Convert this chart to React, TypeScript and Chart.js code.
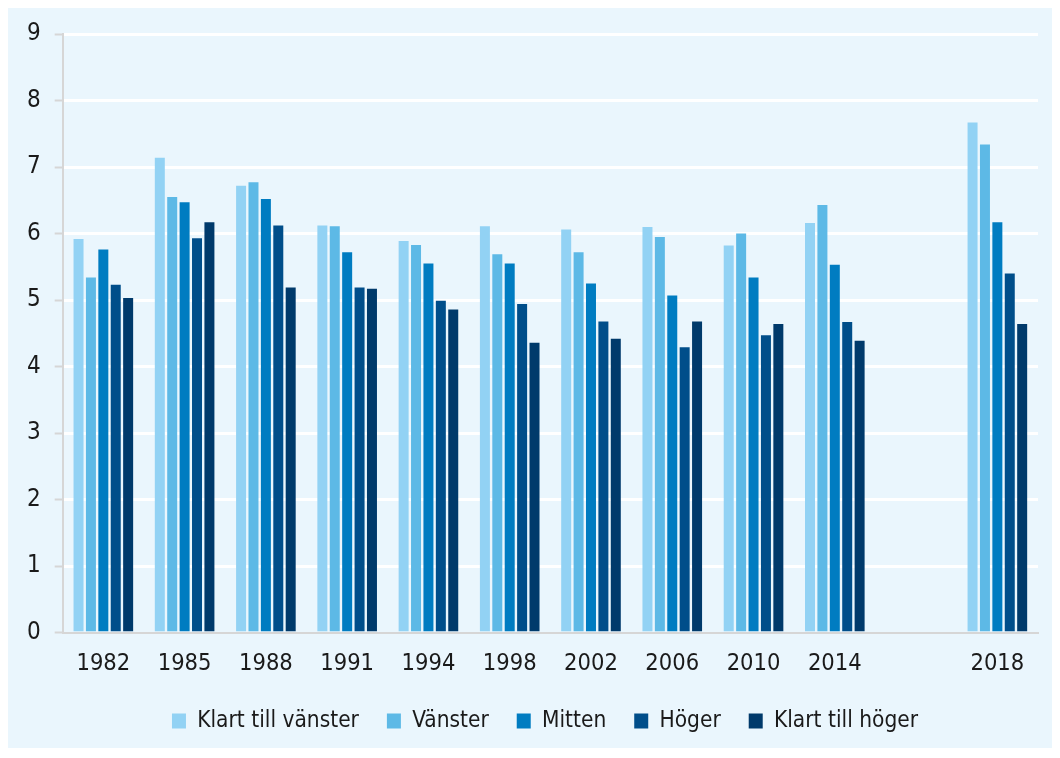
import React, { useEffect, useRef } from "react";
import { Chart, registerables } from "chart.js";

Chart.register(...registerables);

const categories = ["1982", "1985", "1988", "1991", "1994", "1998", "2002", "2006", "2010", "2014", "", "2018"];
const seriesNames = ["Klart till vänster", "Vänster", "Mitten", "Höger", "Klart till höger"];
const klartVanster = [5.92, 7.14, 6.72, 6.12, 5.89, 6.11, 6.06, 6.10, 5.82, 6.16, null, 7.67];
const vanster = [5.34, 6.55, 6.77, 6.11, 5.83, 5.69, 5.72, 5.95, 6.00, 6.43, null, 7.34];
const mitten = [5.76, 6.47, 6.52, 5.72, 5.55, 5.55, 5.25, 5.07, 5.34, 5.53, null, 6.17];
const hoger = [5.23, 5.93, 6.12, 5.19, 4.99, 4.94, 4.68, 4.29, 4.47, 4.67, null, 5.40];
const klartHoger = [5.03, 6.17, 5.19, 5.17, 4.86, 4.36, 4.42, 4.68, 4.64, 4.39, null, 4.64];
const yTicks = [0, 1, 2, 3, 4, 5, 6, 7, 8, 9];

const colors = ["#92D2F4", "#5DB9E6", "#007CC1", "#004E8A", "#003A6B"];
const FONT = "'DejaVu Sans Condensed', 'Liberation Sans Narrow', 'Liberation Sans', sans-serif";

const legendShift = {
  id: "legendShift",
  afterUpdate(chart: any) {
    const lg = chart.legend;
    if (lg) {
      lg.left += 22;
      lg.right += 22;
    }
  },
};

export default function App() {
  const ref = useRef<HTMLCanvasElement>(null);
  useEffect(() => {
    const ctx = ref.current!;
    const seriesData = [klartVanster, vanster, mitten, hoger, klartHoger];
    const chart = new Chart(ctx, {
      type: "bar",
      data: {
        labels: categories,
        datasets: seriesNames.map((name, i) => ({
          label: name,
          data: seriesData[i],
          backgroundColor: colors[i],
          borderWidth: 0,
          barPercentage: 0.806,
          categoryPercentage: 0.763,
        })),
      },
      plugins: [legendShift],
      options: {
        animation: false,
        responsive: false,
        maintainAspectRatio: false,
        layout: { padding: { left: 0, right: 22, top: 29, bottom: 5.75 } },
        plugins: {
          tooltip: { enabled: false },
          legend: {
            position: "bottom",
            labels: {
              boxWidth: 14,
              boxHeight: 15,
              padding: 28,
              color: "#1a1a1a",
              font: { family: FONT, size: 22.5 },
            },
          },
        },
        scales: {
          x: {
            grid: { display: false, drawTicks: false },
            border: { display: true, color: "#D6D6D6", width: 2 },
            ticks: {
              color: "#1a1a1a",
              padding: 17.5,
              maxRotation: 0,
              autoSkip: false,
              font: { family: FONT, size: 23.5 },
            },
            afterFit: (s: any) => {
              s.height = 49;
            },
          },
          y: {
            min: 0,
            max: 9,
            afterBuildTicks: (s: any) => {
              s.ticks = yTicks.map((v) => ({ value: v }));
            },
            afterFit: (s: any) => {
              s.width = 54.7;
            },
            grid: {
              color: (c: any) => (c.tick && c.tick.value === 0 ? "rgba(0,0,0,0)" : "#FFFFFF"),
              lineWidth: 3,
              tickColor: "#D6D6D6",
              tickLength: 8,
              tickWidth: 2,
            },
            border: { display: true, color: "#D6D6D6", width: 2 },
            ticks: {
              color: "#1a1a1a",
              padding: 14,
              font: { family: FONT, size: 24 },
            },
          },
        },
      },
    });
    return () => chart.destroy();
  }, []);
  return (
    <div style={{ marginTop: -3, width: 1052, height: 743, background: "#EAF6FD" }}>
      <canvas ref={ref} width={1052} height={743} style={{ display: "block" }} />
    </div>
  );
}
